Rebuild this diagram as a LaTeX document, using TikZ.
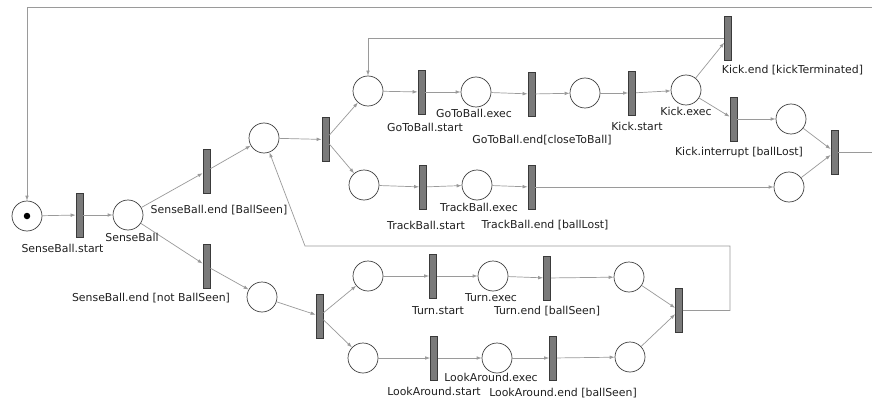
\documentclass[tikz,border=0pt]{standalone}
\usepackage{fontspec}
\setmainfont{DejaVu Sans}
\usetikzlibrary{arrows.meta}
\definecolor{arcgray}{HTML}{9A9A9A}
\definecolor{barfill}{HTML}{7A7A7A}
\definecolor{bardraw}{HTML}{3A3A3A}
\definecolor{placedraw}{HTML}{404040}
\definecolor{lbltext}{HTML}{202020}
\newcommand\lblfont{\fontsize{10.9}{12}\selectfont}
\tikzset{
  place/.style={circle, draw=placedraw, fill=white, minimum size=30pt, inner sep=0pt, line width=0.7pt},
  token/.style={circle, fill=black, minimum size=6.5pt, inner sep=0pt},
  trans/.style={rectangle, draw=bardraw, fill=barfill, minimum width=7pt, minimum height=44pt, inner sep=0pt, line width=0.7pt},
  arc/.style={draw=arcgray, line width=0.7pt, -{Latex[length=5pt,width=3.6pt]}},
  lbl/.style={font=\lblfont, text=lbltext, inner sep=0pt}
}
\begin{document}
\begin{tikzpicture}[x=1pt, y=-1pt]
\useasboundingbox (0,0) rectangle (872,401);
\clip (0,0) rectangle (872,401);
\fill[white] (0,0) rectangle (872,401);

% ---- places ----
\node[place] (p0)     at (27,216) {};
\node[token] (tok)    at (p0) {};
\node[place] (psense) at (128,215) {};
\node[place] (pseen)  at (264,138) {};
\node[place] (pnot)   at (262,297) {};
\node[place] (pgo)    at (368,91) {};
\node[place] (pgox)   at (476,92) {};
\node[place] (pgoe)   at (585,93) {};
\node[place] (pkx)    at (686,90) {};
\node[place] (pki)    at (791,119) {};
\node[place] (ptr)    at (364,185) {};
\node[place] (ptrx)   at (477,185) {};
\node[place] (ptre)   at (789,187) {};
\node[place] (ptu)    at (368,276) {};
\node[place] (ptux)   at (493,276) {};
\node[place] (ptue)   at (629,277) {};
\node[place] (pla)    at (363,358) {};
\node[place] (plax)   at (497,358) {};
\node[place] (plae)   at (630,357) {};

% ---- transitions ----
\node[trans] (tstart) at (79.5,215) {};
\node[trans] (tseen)  at (206.5,171) {};
\node[trans] (tnot)   at (206.5,266) {};
\node[trans] (ftop)   at (325.5,139.5) {};
\node[trans] (tgos)   at (421.5,92) {};
\node[trans] (tgoe)   at (531.5,94) {};
\node[trans] (tks)    at (632,93) {};
\node[trans] (tke)    at (728,38) {};
\node[trans] (tki)    at (733.5,119) {};
\node[trans] (jtop)   at (834.5,152) {};
\node[trans] (ttrs)   at (423,187) {};
\node[trans] (ttre)   at (531.5,187) {};
\node[trans] (fbot)   at (319.5,316) {};
\node[trans] (ttus)   at (433,276) {};
\node[trans] (ttue)   at (547,278) {};
\node[trans] (tlas)   at (434,358) {};
\node[trans] (tlae)   at (553,358) {};
\node[trans] (jbot)   at (679,310.5) {};

% ---- route corners ----
\coordinate (loopR) at (895,7.5);
\coordinate (loopL) at (27,7.5);
\coordinate (backR) at (730,246);
\coordinate (backL) at (305,246);

% ---- arcs ----
\draw[arc] (p0) -- (tstart);
\draw[arc] (tstart) -- (psense);
\draw[arc] (psense) -- (tseen);
\draw[arc] (tseen) -- (pseen);
\draw[arc] (psense) -- (tnot);
\draw[arc] (tnot) -- (pnot);
\draw[arc] (pseen) -- (ftop);
\draw[arc] (ftop) -- (pgo);
\draw[arc] (ftop) -- (ptr);
\draw[arc] (pgo) -- (tgos);
\draw[arc] (tgos) -- (pgox);
\draw[arc] (pgox) -- (tgoe);
\draw[arc] (tgoe) -- (pgoe);
\draw[arc] (pgoe) -- (tks);
\draw[arc] (tks) -- (pkx);
\draw[arc] (pkx) -- (tke);
\draw[arc] (pkx) -- (tki);
\draw[arc] (tki) -- (pki);
\draw[arc] (pki) -- (jtop);
\draw[arc] (tke.west) -- (pgo |- tke.west) -- (pgo);
\draw[arc] (ptr) -- (ttrs);
\draw[arc] (ttrs) -- (ptrx);
\draw[arc] (ptrx) -- (ttre);
\draw[arc] (ttre) -- (ptre);
\draw[arc] (ptre) -- (jtop);
\draw[arc] (jtop.east) -| (loopR) -- (loopL) -- (p0);
\draw[arc] (pnot) -- (fbot);
\draw[arc] (fbot) -- (ptu);
\draw[arc] (fbot) -- (pla);
\draw[arc] (ptu) -- (ttus);
\draw[arc] (ttus) -- (ptux);
\draw[arc] (ptux) -- (ttue);
\draw[arc] (ttue) -- (ptue);
\draw[arc] (ptue) -- (jbot);
\draw[arc] (pla) -- (tlas);
\draw[arc] (tlas) -- (plax);
\draw[arc] (plax) -- (tlae);
\draw[arc] (tlae) -- (plae);
\draw[arc] (plae) -- (jbot);
\draw[arc] (jbot.east) -| (backR) -- (backL) -- (pseen);

% ---- labels ----
\node[lbl] (l1)  at (62.5,248) {SenseBall.start};
\node[lbl] (l2)  at (132,237) {SenseBall};
\node[lbl] (l3)  at (219,210) {SenseBall.end [BallSeen]};
\node[lbl] (l4)  at (151,298) {SenseBall.end [not BallSeen]};
\node[lbl] (l5)  at (425,127) {GoToBall.start};
\node[lbl] (l6)  at (474,113) {GoToBall.exec};
\node[lbl] (l7)  at (542,140) {GoToBall.end[closeToBall]};
\node[lbl] (l8)  at (637,126) {Kick.start};
\node[lbl] (l9)  at (686,111.5) {Kick.exec};
\node[lbl] (l10) at (792.5,70.5) {Kick.end [kickTerminated]};
\node[lbl] (l11) at (739,152.5) {Kick.interrupt [ballLost]};
\node[lbl] (l12) at (479,207.5) {TrackBall.exec};
\node[lbl] (l13) at (426,225) {TrackBall.start};
\node[lbl] (l14) at (545,225) {TrackBall.end [ballLost]};
\node[lbl] (l15) at (438,310.5) {Turn.start};
\node[lbl] (l16) at (491,297.5) {Turn.exec};
\node[lbl] (l17) at (547,311) {Turn.end [ballSeen]};
\node[lbl] (l18) at (491,377.5) {LookAround.exec};
\node[lbl] (l19) at (434,391.5) {LookAround.start};
\node[lbl] (l20) at (563,393) {LookAround.end [ballSeen]};
\end{tikzpicture}
\end{document}
